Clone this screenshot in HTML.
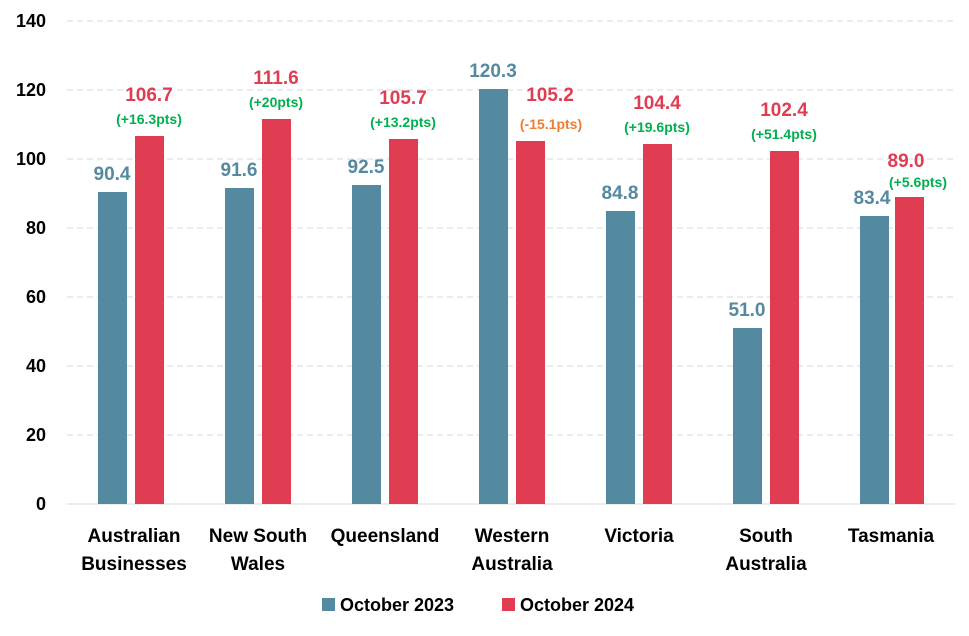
<!DOCTYPE html>
<html><head><meta charset="utf-8"><style>
html,body{margin:0;padding:0;background:#fff}
text{font-family:"Liberation Sans",Arial,sans-serif;font-weight:bold}
</style></head><body>
<svg width="969" height="631" viewBox="0 0 969 631" xmlns="http://www.w3.org/2000/svg">
<g stroke="#d9d9d9" stroke-width="1" stroke-dasharray="6,4">
<line x1="67" x2="955" y1="21" y2="21"/>
<line x1="67" x2="955" y1="90" y2="90"/>
<line x1="67" x2="955" y1="159" y2="159"/>
<line x1="67" x2="955" y1="228" y2="228"/>
<line x1="67" x2="955" y1="297" y2="297"/>
<line x1="67" x2="955" y1="366" y2="366"/>
<line x1="67" x2="955" y1="435" y2="435"/>
</g>
<line x1="67" x2="955" y1="504" y2="504" stroke="#d9d9d9"/>
<g font-size="18" fill="#000" text-anchor="end">
<text x="46" y="510">0</text><text x="46" y="441">20</text><text x="46" y="372">40</text>
<text x="46" y="303">60</text><text x="46" y="234">80</text><text x="46" y="165">100</text>
<text x="46" y="96">120</text><text x="46" y="27">140</text>
</g>
<g fill="#548aa0">
<rect x="98" y="192" width="29" height="312"/>
<rect x="225" y="188" width="29" height="316"/>
<rect x="352" y="185" width="29" height="319"/>
<rect x="479" y="89" width="29" height="415"/>
<rect x="606" y="211" width="29" height="293"/>
<rect x="733" y="328" width="29" height="176"/>
<rect x="860" y="216" width="29" height="288"/>
</g>
<g fill="#e03c52">
<rect x="135" y="136" width="29" height="368"/>
<rect x="262" y="119" width="29" height="385"/>
<rect x="389" y="139" width="29" height="365"/>
<rect x="516" y="141" width="29" height="363"/>
<rect x="643" y="144" width="29" height="360"/>
<rect x="770" y="151" width="29" height="353"/>
<rect x="895" y="197" width="29" height="307"/>
</g>
<g font-size="19" fill="#548aa0" text-anchor="middle">
<text x="112" y="180">90.4</text><text x="239" y="176">91.6</text>
<text x="366" y="173">92.5</text><text x="493" y="77">120.3</text>
<text x="620" y="199">84.8</text><text x="747" y="316">51.0</text>
<text x="872" y="204">83.4</text>
</g>
<g font-size="19" fill="#e03c52" text-anchor="middle">
<text x="149" y="101">106.7</text><text x="276" y="84">111.6</text>
<text x="403" y="104">105.7</text><text x="550" y="101">105.2</text>
<text x="657" y="109">104.4</text><text x="784" y="116">102.4</text>
<text x="906" y="167">89.0</text>
</g>
<g font-size="14" fill="#00b050" text-anchor="middle">
<text x="149" y="124">(+16.3pts)</text><text x="276" y="107">(+20pts)</text>
<text x="403" y="127">(+13.2pts)</text>
<text fill="#ed7d31" x="551" y="129">(-15.1pts)</text>
<text x="657" y="132">(+19.6pts)</text><text x="784" y="139">(+51.4pts)</text>
<text x="918" y="187">(+5.6pts)</text>
</g>
<g font-size="19" fill="#000" text-anchor="middle">
<text x="134" y="542">Australian</text><text x="134" y="570">Businesses</text>
<text x="258" y="542">New South</text><text x="258" y="570">Wales</text>
<text x="385" y="542">Queensland</text>
<text x="512" y="542">Western</text><text x="512" y="570">Australia</text>
<text x="639" y="542">Victoria</text>
<text x="766" y="542">South</text><text x="766" y="570">Australia</text>
<text x="891" y="542">Tasmania</text>
</g>
<rect x="322" y="598" width="13" height="13" fill="#548aa0"/>
<text x="340" y="611" font-size="18">October 2023</text>
<rect x="502" y="598" width="13" height="13" fill="#e03c52"/>
<text x="520" y="611" font-size="18">October 2024</text>
</svg>
</body></html>
